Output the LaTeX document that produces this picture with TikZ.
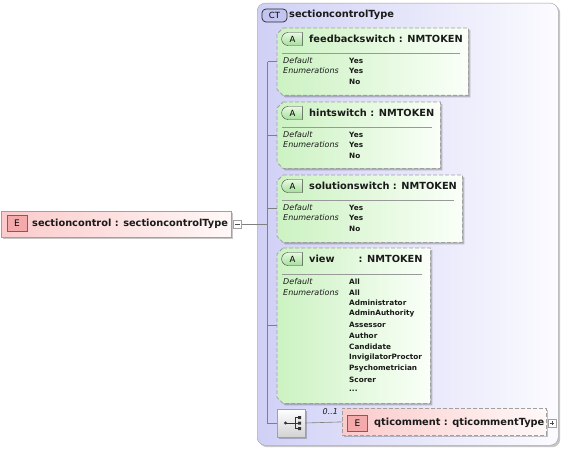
\documentclass[tikz,border=0pt]{standalone}
\usepackage{fontspec}
\setmainfont{DejaVu Sans}
\usetikzlibrary{shapes.misc,shadows}
\definecolor{ctleft}{HTML}{D0D0F6}
\definecolor{ctright}{HTML}{FBFBFF}
\definecolor{ctbadge}{HTML}{C4C4F0}
\definecolor{attleft}{HTML}{CCF2C2}
\definecolor{attright}{HTML}{FAFFF8}
\definecolor{abadgetop}{HTML}{E6FAE0}
\definecolor{abadgebot}{HTML}{A6DE9C}
\definecolor{elleft}{HTML}{FBCACA}
\definecolor{elright}{HTML}{FFF8F8}
\definecolor{ebadge}{HTML}{F4AAAA}
\definecolor{ebadgeline}{HTML}{B04848}
\definecolor{boxline}{HTML}{A0A0A0}
\definecolor{conline}{HTML}{808080}
\definecolor{txt}{HTML}{1A1A1A}
\pgfdeclarehorizontalshading{ctsh}{100bp}{color(0bp)=(ctleft); color(25bp)=(ctleft); color(75bp)=(ctright); color(100bp)=(ctright)}
\pgfdeclarehorizontalshading{attsh}{100bp}{color(0bp)=(attleft); color(25bp)=(attleft); color(75bp)=(attright); color(100bp)=(attright)}
\pgfdeclarehorizontalshading{elsh}{100bp}{color(0bp)=(elleft); color(25bp)=(elleft); color(75bp)=(elright); color(100bp)=(elright)}
\newcommand\attrshape[1]{%
  \path[attrfill] ([xshift=6pt]#1.north west) -- (#1.north east) -- (#1.south east)
    -- ([xshift=6pt]#1.south west) -- ([yshift=6pt]#1.south west)
    -- ([yshift=-6pt]#1.north west) -- cycle;}
\begin{document}
\begin{tikzpicture}[x=1pt,y=-1pt,
  shadowed/.style={drop shadow={shadow xshift=2pt,shadow yshift=-2pt,opacity=0.22,fill=black}},
  ctbox/.style={draw=boxline,rounded corners=8pt,shading=ctsh,shading angle=0,shadowed,inner sep=0pt},
  attrbox/.style={inner sep=0pt,anchor=north west},
  attrfill/.style={draw=boxline,line width=0.8pt,dash pattern=on 4pt off 2pt,shading=attsh,shading angle=0,shadowed},
  elbox/.style={draw=boxline,line width=0.8pt,shading=elsh,shading angle=0,shadowed,inner sep=0pt},
  abadge/.style={shape=rounded rectangle,rounded rectangle right arc=none,draw=black!75,
     top color=abadgetop,bottom color=abadgebot,minimum width=21pt,minimum height=13pt,inner sep=0pt,
     font=\fontsize{8.5}{10}\selectfont},
  ebadge/.style={draw=ebadgeline,fill=ebadge,minimum width=20pt,minimum height=16pt,inner sep=0pt,
     font=\fontsize{9}{11}\selectfont},
  ctbadgestyle/.style={draw=black!85,line width=0.7pt,fill=ctbadge,rounded corners=4pt,minimum width=25pt,minimum height=13pt,inner sep=0pt,
     font=\fontsize{8.5}{10}\selectfont},
  head/.style={anchor=west,inner sep=0pt,text=txt,font=\fontsize{9.8}{12}\selectfont\bfseries},
  lab/.style={anchor=west,inner sep=0pt,text=txt,font=\fontsize{8}{10}\selectfont\itshape},
  val/.style={anchor=west,inner sep=0pt,text=txt,font=\fontsize{7.3}{9}\selectfont\bfseries},
  sep/.style={draw=gray!80,line width=0.8pt},
  con/.style={draw=conline,line width=0.6pt},
  smallbox/.style={draw=boxline,fill=white,minimum width=8pt,minimum height=8pt,inner sep=0pt},
]
\useasboundingbox (0,0) rectangle (564,449);

% complex type box
\node[ctbox,minimum width=301pt,minimum height=442pt,anchor=north west] (ct) at (257,3) {};
\node[ctbadgestyle] (ctb) at (274.5,15.5) {CT};
\node[head] (ctname) at (289,15) {sectioncontrolType};

% element on the left
\node[elbox,minimum width=230pt,minimum height=26pt,anchor=north west] (el) at (1,211) {};
\node[ebadge] (elb) at (17,223.5) {E};
\node[head] (elname) at (32,224) {sectioncontrol : sectioncontrolType};
\node[smallbox] (minus) at (237.5,224.5) {};
\draw[black!70,line width=0.6pt] ([xshift=1.8pt]minus.west) -- ([xshift=-1.8pt]minus.east);

% attribute boxes
\node[attrbox,minimum width=191pt,minimum height=67pt] (a1) at (277,28) {};
\node[attrbox,minimum width=163pt,minimum height=66pt] (a2) at (277,102) {};
\node[attrbox,minimum width=185pt,minimum height=67pt] (a3) at (277,175) {};
\node[attrbox,minimum width=153pt,minimum height=155pt] (a4) at (277,248) {};
\attrshape{a1}\attrshape{a2}\attrshape{a3}\attrshape{a4}

% attribute 1
\node[abadge] (b1) at (292.5,39) {A};
\node[head] (h1) at (309,39) {feedbackswitch : NMTOKEN};
\draw[sep] (282,53) -- (460,53);
\node[lab] (d1) at (283,61) {Default};
\node[lab] (e1) at (283,71) {Enumerations};
\node[val] (v1a) at (349,61) {Yes};
\node[val] (v1b) at (349,71) {Yes};
\node[val] (v1c) at (349,81.5) {No};

% attribute 2
\node[abadge] (b2) at (292.5,113) {A};
\node[head] (h2) at (309,113) {hintswitch : NMTOKEN};
\draw[sep] (282,127) -- (432,127);
\node[lab] (d2) at (283,135) {Default};
\node[lab] (e2) at (283,145) {Enumerations};
\node[val] (v2a) at (349,135) {Yes};
\node[val] (v2b) at (349,145) {Yes};
\node[val] (v2c) at (349,155.5) {No};

% attribute 3
\node[abadge] (b3) at (292.5,186) {A};
\node[head] (h3) at (309,186) {solutionswitch : NMTOKEN};
\draw[sep] (282,200) -- (454,200);
\node[lab] (d3) at (283,208) {Default};
\node[lab] (e3) at (283,218) {Enumerations};
\node[val] (v3a) at (349,208) {Yes};
\node[val] (v3b) at (349,218) {Yes};
\node[val] (v3c) at (349,228.5) {No};

% attribute 4
\node[abadge] (b4) at (292.5,259) {A};
\node[head] (h4) at (309,259) {view};
\node[head] (h4t) at (358.5,259) {: NMTOKEN};
\draw[sep] (282,274) -- (422,274);
\node[lab] (d4) at (283,282) {Default};
\node[lab] (e4) at (283,292.5) {Enumerations};
\node[val] (v4a) at (349,282) {All};
\node[val] (v4b) at (349,292.5) {All};
\node[val] (v41) at (349,302.5) {Administrator};
\node[val] (v42) at (349,313.5) {AdminAuthority};
\node[val] (v43) at (349,324.5) {Assessor};
\node[val] (v44) at (349,335.5) {Author};
\node[val] (v45) at (349,346.5) {Candidate};
\node[val] (v46) at (349,357.5) {InvigilatorProctor};
\node[val] (v47) at (349,368.5) {Psychometrician};
\node[val] (v48) at (349,379.5) {Scorer};
\node[val] (v49) at (349,390.5) {...};

% sequence compositor
\node[draw=boxline,top color=white,bottom color=gray!35,shadowed,minimum width=28pt,minimum height=28pt,inner sep=0pt] (seq) at (291,423) {};
\fill[black!80] (285.5,423) circle (1.6pt);
\draw[black!80,line width=0.8pt] (285.5,423) -- (295,423) (295,417.5) -- (295,428.5)
   (295,417.5) -- (298,417.5) (295,428.5) -- (298,428.5) (295,423) -- (298,423);
\fill[black!80] (298,416) rectangle (301,419) (298,421.5) rectangle (301,424.5) (298,427) rectangle (301,430);

% optional element qticomment
\node[elbox,dash pattern=on 4pt off 2pt,minimum width=204pt,minimum height=27pt,anchor=north west] (qti) at (342,408) {};
\node[ebadge] (qb) at (357.5,423.5) {E};
\node[head] (qname) at (374,422.5) {qticomment : qticommentType};
\node[smallbox] (plus) at (552,423) {};
\draw[black!70,line width=0.6pt] ([xshift=1.8pt]plus.west) -- ([xshift=-1.8pt]plus.east)
   ([yshift=1.8pt]plus.south) -- ([yshift=-1.8pt]plus.north);
\node[anchor=west,inner sep=0pt,text=txt,font=\fontsize{8}{10}\selectfont\itshape] (mult) at (322.5,411.5) {0..1};

% connectors
\coordinate (vx) at (267.5,0);
\draw[con] (minus.east) -- (vx |- minus.east);
\draw[con] (vx |- a1.west) -- (vx |- seq.west) -- (seq.west);
\draw[con] (vx |- a1.west) -- (a1.west);
\draw[con] (vx |- a2.west) -- (a2.west);
\draw[con] (vx |- a3.west) -- (a3.west);
\draw[con] (vx |- a4.west) -- (a4.west);
\draw[con] (seq.east) -- (qti.west);
\end{tikzpicture}
\end{document}
